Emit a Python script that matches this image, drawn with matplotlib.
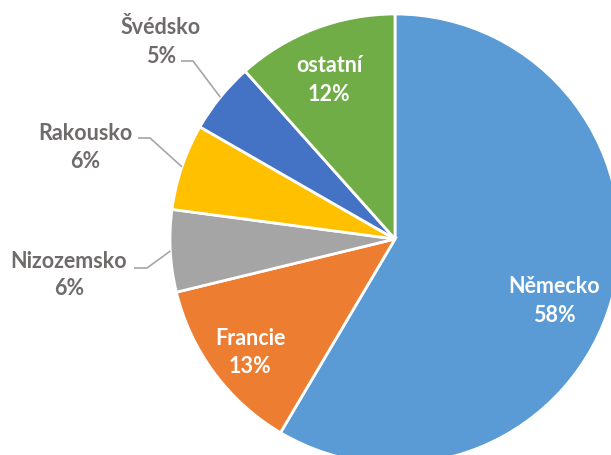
import numpy as np
import matplotlib
matplotlib.use('Agg')
from matplotlib import pyplot as plt

# podíly zemí (%), po směru hodin od 12 h
zeme = ['Německo', 'Francie', 'Nizozemsko', 'Rakousko', 'Švédsko', 'ostatní']
podil = [58.5, 12.7, 5.9, 6.2, 5.1, 11.6]
popisky = ['58%', '13%', '6%', '6%', '5%', '12%']
barvy = ['#5B9BD5', '#ED7D31', '#A5A5A5', '#FFC000', '#4472C4', '#70AD47']
uvnitr = [True, True, False, False, False, True]

# umístění popisků v pixelech obrázku: x středu, účaří názvu, účaří procent
pos_lbl = [(554, 293, 322), (250, 345, 373), (69, 268, 295),
           (85, 140, 168), (161, 34, 63), (329, 72, 101)]
# vodicí čáry: x začátku, x lomu, y (pixely)
lom = {2: (134, 147, 269), 3: (138, 150, 139), 4: (181, 193, 62)}

# pixel -> data (střed koláče 395,240, poloměr 225 px)
CX, CY, R = 395., 240., 225.
px = lambda x: (x - CX) / R
py = lambda y: (CY - y) / R

plt.rcParams['font.family'] = ['Lato', 'DejaVu Sans']
fs = 15.5

fig = plt.figure(figsize=(6.11, 4.56), dpi=100)
ax = fig.add_axes([0, 0, 1, 1])
wedges, _ = ax.pie(podil, colors=barvy, startangle=90, counterclock=False,
                   wedgeprops=dict(edgecolor='white', linewidth=2))
ax.set_aspect('equal')
ax.set_xlim(px(0), px(611))
ax.set_ylim(py(456), py(0))
ax.axis('off')

for i, w in enumerate(wedges):
    ang = np.deg2rad((w.theta1 + w.theta2) / 2.)
    barva = 'white' if uvnitr[i] else '#6F6B6B'
    x, y1, y2 = pos_lbl[i]
    ax.text(px(x), py(y1), zeme[i], ha='center', va='baseline', color=barva,
            fontsize=fs, fontweight='bold')
    ax.text(px(x), py(y2), popisky[i], ha='center', va='baseline', color=barva,
            fontsize=fs, fontweight='bold')
    if not uvnitr[i]:
        x0, x1, yl = lom[i]
        ax.plot([px(x0), px(x1), np.cos(ang)], [py(yl), py(yl), np.sin(ang)],
                color='#A6A6A6', lw=1.2, solid_capstyle='butt')

fig.savefig('out.png', dpi=100)
